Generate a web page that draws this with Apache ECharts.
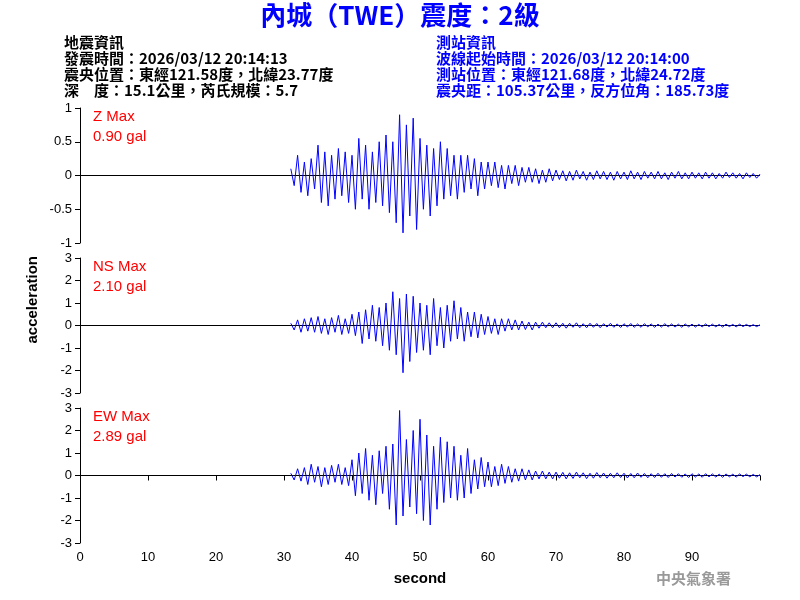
<!DOCTYPE html>
<html>
<head>
<meta charset="utf-8">
<script src="https://cdn.jsdelivr.net/npm/echarts@6/dist/echarts.min.js"></script>
<style>html,body{margin:0;padding:0;background:#fff}#main{width:800px;height:600px}</style>
</head>
<body>
<div id="main"></div>
<script>
// 波形資料：自 31 秒起，每 0.5 秒一點
var startSec = 31;
var stepSec = 0.5;
var zWave = [0.1,-0.15,0.3,-0.25,0.2,-0.3,0.25,-0.2,
  0.45,-0.4,0.35,-0.45,0.3,-0.35,0.4,-0.3,0.35,-0.4,
  0.3,-0.5,0.55,-0.35,0.45,-0.5,0.35,-0.4,0.5,-0.45,
  0.6,-0.55,0.5,-0.7,0.9,-0.85,0.75,-0.6,0.85,-0.8,
  0.55,-0.5,0.45,-0.6,0.4,-0.45,0.5,-0.35,0.4,-0.3,
  0.3,-0.35,0.3,-0.25,0.3,-0.2,0.25,-0.3,0.2,-0.2,
  0.2,-0.15,0.2,-0.18,0.15,-0.2,0.15,-0.12,0.15,-0.15,0.12,-0.1,0.12,-0.1,0.1,-0.12,0.08,-0.1,0.1,-0.08,
  0.08,-0.06,0.07,-0.08,0.06,-0.07,0.08,-0.05,0.06,-0.07,0.05,-0.06,0.07,-0.05,0.06,-0.06,0.05,-0.07,0.06,-0.05,
  0.05,-0.06,0.07,-0.05,0.05,-0.06,0.06,-0.04,0.05,-0.05,0.06,-0.05,0.04,-0.06,0.05,-0.04,0.06,-0.05,0.04,-0.05,
  0.05,-0.04,0.04,-0.05,0.05,-0.04,0.04,-0.05,0.03,-0.04,0.05,-0.03,0.04,-0.04,0.03,-0.05,0.04,-0.03,0.03,-0.04,0.02];
var nsWave = [0.1,-0.2,0.25,-0.3,0.3,-0.25,0.35,-0.3,
  0.4,-0.35,0.3,-0.4,0.35,-0.3,0.45,-0.4,0.3,-0.35,
  0.5,-0.45,0.6,-0.8,0.7,-0.6,0.9,-0.7,0.8,-0.9,
  1.0,-1.1,1.5,-1.3,1.2,-2.1,1.4,-1.6,1.3,-1.2,
  1.0,-1.1,0.9,-1.3,1.2,-0.9,0.8,-1.0,0.9,-0.7,
  1.1,-0.6,0.8,-0.7,0.6,-0.5,0.6,-0.55,0.5,-0.4,
  0.4,-0.35,0.3,-0.4,0.3,-0.25,0.3,-0.2,0.25,-0.2,0.2,-0.18,0.15,-0.2,0.15,-0.12,0.15,-0.1,0.12,-0.1,
  0.12,-0.1,0.1,-0.12,0.1,-0.08,0.12,-0.1,0.08,-0.1,0.1,-0.08,0.09,-0.1,0.08,-0.07,0.1,-0.08,0.07,-0.09,
  0.08,-0.07,0.09,-0.08,0.07,-0.08,0.08,-0.06,0.07,-0.08,0.06,-0.07,0.08,-0.06,0.07,-0.07,0.06,-0.08,0.07,-0.06,
  0.06,-0.07,0.05,-0.06,0.07,-0.05,0.06,-0.06,0.05,-0.07,0.06,-0.05,0.05,-0.06,0.06,-0.05,0.05,-0.05,0.04,-0.05,0.03];
var ewWave = [0.1,-0.2,0.3,-0.25,0.35,-0.4,0.5,-0.3,
  0.4,-0.5,0.35,-0.4,0.45,-0.3,0.5,-0.4,0.35,-0.45,
  0.7,-0.9,1.0,-0.8,1.2,-1.1,0.9,-1.3,1.1,-0.8,
  1.3,-1.5,1.4,-2.2,2.89,-1.8,1.6,-1.4,2.0,-1.7,
  2.5,-2.0,1.8,-2.2,1.3,-1.5,1.7,-1.2,1.5,-1.0,
  1.3,-1.1,0.9,-1.0,1.2,-0.8,0.7,-0.6,0.8,-0.5,
  0.6,-0.5,0.4,-0.45,0.5,-0.35,0.4,-0.3,0.3,-0.25,0.3,-0.2,0.25,-0.2,0.2,-0.15,0.2,-0.15,0.15,-0.15,
  0.15,-0.12,0.14,-0.15,0.12,-0.13,0.15,-0.1,0.12,-0.14,0.1,-0.12,0.13,-0.1,0.11,-0.12,0.1,-0.1,0.12,-0.09,
  0.1,-0.11,0.09,-0.1,0.11,-0.08,0.09,-0.1,0.08,-0.09,0.1,-0.08,0.08,-0.09,0.09,-0.07,0.08,-0.08,0.07,-0.09,
  0.08,-0.07,0.07,-0.08,0.08,-0.06,0.07,-0.07,0.06,-0.08,0.07,-0.06,0.06,-0.07,0.07,-0.05,0.06,-0.06,0.05,-0.06,0.04];
var traceNames = ["Z Max", "NS Max", "EW Max"];
var traceMax = ["0.90 gal", "2.10 gal", "2.89 gal"];
var yRanges = [[-1, 1, 0.5], [-3, 3, 1], [-3, 3, 1]];
var xTicks = [0, 10, 20, 30, 40, 50, 60, 70, 80, 90];

var waves = [zWave, nsWave, ewWave];
var tops = [108, 258, 408];

function toPoints(w) {
  return w.map(function (v, i) { return [startSec + i * stepSec, v]; });
}

var grids = [], xAxes = [], yAxes = [], series = [], texts = [];
tops.forEach(function (t, i) {
  grids.push({ left: 80, right: 40, top: t, height: 135 });
  xAxes.push({
    type: "value", gridIndex: i, min: 0, max: 100, interval: 10,
    show: i === 2,
    axisLine: { lineStyle: { color: "#000" } },
    axisTick: { lineStyle: { color: "#000" } },
    splitLine: { show: false },
    axisLabel: { color: "#000", fontSize: 13, fontFamily: "Arial, Liberation Sans",
      formatter: function (v) { return xTicks.indexOf(v) >= 0 ? v : ""; } },
    name: i === 2 ? "second" : "", nameLocation: "middle", nameGap: 28,
    nameTextStyle: { color: "#000", fontSize: 15, fontWeight: "bold", fontFamily: "Arial, Liberation Sans" }
  });
  yAxes.push({
    type: "value", gridIndex: i, min: yRanges[i][0], max: yRanges[i][1], interval: yRanges[i][2],
    axisLine: { show: true, lineStyle: { color: "#000" } },
    axisTick: { show: true, lineStyle: { color: "#000" } },
    splitLine: { show: false },
    axisLabel: { color: "#000", fontSize: 13, fontFamily: "Arial, Liberation Sans" }
  });
  series.push({
    type: "line", xAxisIndex: i, yAxisIndex: i, data: [[0, 0], [100, 0]],
    symbol: "none", silent: true, lineStyle: { color: "#000", width: 1 }, z: 1
  });
  series.push({
    type: "line", xAxisIndex: i, yAxisIndex: i, data: toPoints(waves[i]),
    symbol: "none", lineStyle: { color: "#0000ff", width: 1 }, z: 2
  });
  texts.push({ type: "text", left: 93, top: t + 1, style: { text: traceNames[i], fill: "#ff0000", font: "15px Arial, Liberation Sans" } });
  texts.push({ type: "text", left: 93, top: t + 21, style: { text: traceMax[i], fill: "#ff0000", font: "15px Arial, Liberation Sans" } });
});

var cjk = "'Noto Sans CJK TC'";
var blk = ["地震資訊", "發震時間：2026/03/12 20:14:13", "震央位置：東經121.58度，北緯23.77度", "深　度：15.1公里，芮氏規模：5.7"];
var blu = ["測站資訊", "波線起始時間：2026/03/12 20:14:00", "測站位置：東經121.68度，北緯24.72度", "震央距：105.37公里，反方位角：185.73度"];
blk.forEach(function (s, k) {
  texts.push({ type: "text", left: 64, top: 35 + k * 16, style: { text: s, fill: "#000", font: "bold 15px " + cjk } });
});
blu.forEach(function (s, k) {
  texts.push({ type: "text", left: 436, top: 35 + k * 16, style: { text: s, fill: "#0000ff", font: "bold 15px " + cjk } });
});
texts.push({ type: "text", left: "center", top: 2, style: { text: "內城（TWE）震度：2級", fill: "#0000ff", font: "bold 26px " + cjk } });
texts.push({ type: "text", left: 656, top: 571, style: { text: "中央氣象署", fill: "#999", font: "bold 15px " + cjk } });
texts.push({ type: "text", left: 25, top: 256, rotation: Math.PI / 2, style: { text: "acceleration", fill: "#000", font: "bold 15px Arial, Liberation Sans" } });

var chart = echarts.init(document.getElementById("main"));
chart.setOption({
  animation: false,
  grid: grids, xAxis: xAxes, yAxis: yAxes, series: series,
  graphic: texts
});
</script>
</body>
</html>
